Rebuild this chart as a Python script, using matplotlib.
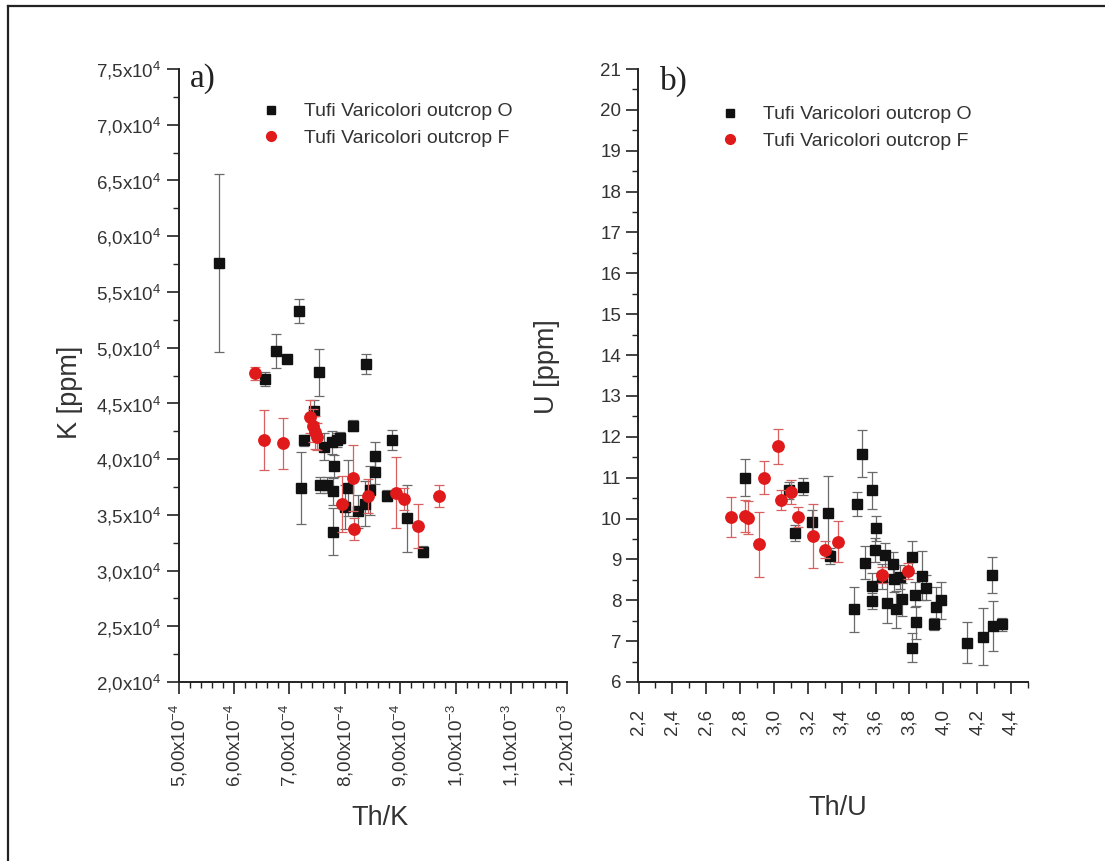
import matplotlib
matplotlib.use("Agg")
import matplotlib.pyplot as plt
from matplotlib.lines import Line2D
from matplotlib.ticker import FixedLocator, MultipleLocator

plt.rcParams['font.family'] = ['Liberation Sans', 'DejaVu Sans']
plt.rcParams['mathtext.fontset'] = 'custom'
plt.rcParams['mathtext.rm'] = 'Liberation Sans'
plt.rcParams['mathtext.it'] = 'Liberation Sans:italic'
plt.rcParams['mathtext.default'] = 'regular'

# ---------------- data: panel a (Th/K vs K) ----------------
thk_O = [5.73e-4, 7.17e-4, 6.76e-4, 6.96e-4, 6.56e-4, 7.54e-4, 8.39e-4, 7.45e-4, 7.26e-4, 8.14e-4,
         8.85e-4, 8.54e-4, 8.55e-4, 7.62e-4, 7.77e-4, 7.85e-4, 7.92e-4, 7.81e-4, 7.21e-4, 7.56e-4,
         7.67e-4, 7.79e-4, 8.06e-4, 8.00e-4, 7.79e-4, 8.24e-4, 8.37e-4, 8.45e-4, 8.76e-4, 9.12e-4,
         9.40e-4]
k_O = [5.76e4, 5.33e4, 4.97e4, 4.90e4, 4.72e4, 4.78e4, 4.85e4, 4.43e4, 4.17e4, 4.30e4,
       4.17e4, 4.03e4, 3.88e4, 4.11e4, 4.15e4, 4.17e4, 4.19e4, 3.94e4, 3.74e4, 3.77e4,
       3.77e4, 3.71e4, 3.74e4, 3.57e4, 3.35e4, 3.53e4, 3.60e4, 3.72e4, 3.67e4, 3.47e4,
       3.17e4]
k_O_err = [0.80e4, 0.11e4, 0.15e4, 0.03e4, 0.06e4, 0.21e4, 0.09e4, 0.10e4, 0.05e4, 0.05e4,
           0.09e4, 0.12e4, 0.10e4, 0.12e4, 0.10e4, 0.06e4, 0.05e4, 0.10e4, 0.32e4, 0.07e4,
           0.07e4, 0.12e4, 0.25e4, 0.20e4, 0.21e4, 0.15e4, 0.20e4, 0.22e4, 0.05e4, 0.30e4,
           0.05e4]

thk_F = [6.38e-4, 6.54e-4, 6.88e-4, 7.38e-4, 7.42e-4, 7.47e-4, 7.50e-4, 8.15e-4, 7.95e-4, 8.17e-4,
         8.42e-4, 8.92e-4, 9.07e-4, 9.32e-4, 9.69e-4]
k_F = [4.77e4, 4.17e4, 4.14e4, 4.38e4, 4.30e4, 4.24e4, 4.20e4, 3.83e4, 3.60e4, 3.37e4,
       3.67e4, 3.70e4, 3.64e4, 3.40e4, 3.67e4]
k_F_err = [0.06e4, 0.27e4, 0.23e4, 0.15e4, 0.15e4, 0.15e4, 0.12e4, 0.30e4, 0.25e4, 0.10e4,
           0.15e4, 0.32e4, 0.10e4, 0.20e4, 0.10e4]

# ---------------- data: panel b (Th/U vs U) ----------------
thu_O = [2.83, 3.09, 3.17, 3.225, 3.126, 3.32, 3.33, 3.52, 3.49, 3.578,
         3.603, 3.597, 3.656, 3.705, 3.54, 3.578, 3.581, 3.67, 3.721, 3.758,
         3.709, 3.745, 3.814, 3.873, 3.833, 3.898, 3.839, 3.945, 3.957, 3.987,
         3.814, 3.471, 4.139, 4.233, 4.292, 4.345, 4.286, 3.64]
u_O = [11.00, 10.69, 10.78, 9.92, 9.65, 10.14, 9.08, 11.59, 10.35, 10.69,
       9.76, 9.23, 9.11, 8.89, 8.92, 8.36, 7.98, 7.94, 7.78, 8.02,
       8.51, 8.57, 9.06, 8.60, 8.14, 8.31, 7.46, 7.42, 7.83, 8.00,
       6.84, 7.78, 6.96, 7.11, 7.37, 7.41, 8.62, 8.58]
u_O_err = [0.45, 0.20, 0.20, 0.30, 0.20, 0.90, 0.20, 0.58, 0.30, 0.45,
           0.30, 0.30, 0.30, 0.30, 0.40, 0.30, 0.20, 0.50, 0.45, 0.40,
           0.30, 0.30, 0.40, 0.60, 0.30, 0.30, 0.40, 0.15, 0.50, 0.45,
           0.35, 0.55, 0.50, 0.70, 0.60, 0.15, 0.43, 0.30]

thu_F = [3.026, 2.94, 2.746, 2.83, 2.845, 2.91, 3.04, 3.10, 3.14, 3.23,
         3.30, 3.38, 3.64, 3.79]
u_F = [11.77, 11.00, 10.04, 10.06, 10.02, 9.37, 10.45, 10.65, 10.04, 9.57,
       9.24, 9.43, 8.62, 8.72]
u_F_err = [0.43, 0.40, 0.49, 0.40, 0.40, 0.80, 0.25, 0.30, 0.25, 0.78,
           0.20, 0.50, 0.20, 0.20]

series_labels = ["Tufi Varicolori outcrop O", "Tufi Varicolori outcrop F"]

# ---------------- ticks ----------------
xa_ticks = [5e-4, 6e-4, 7e-4, 8e-4, 9e-4, 1.0e-3, 1.1e-3, 1.2e-3]
xa_labels = ["5,00x10$^{-4}$", "6,00x10$^{-4}$", "7,00x10$^{-4}$", "8,00x10$^{-4}$",
             "9,00x10$^{-4}$", "1,00x10$^{-3}$", "1,10x10$^{-3}$", "1,20x10$^{-3}$"]
ya_ticks = [2.0e4, 2.5e4, 3.0e4, 3.5e4, 4.0e4, 4.5e4, 5.0e4, 5.5e4, 6.0e4, 6.5e4, 7.0e4, 7.5e4]
ya_labels = ["2,0x10$^{4}$", "2,5x10$^{4}$", "3,0x10$^{4}$", "3,5x10$^{4}$", "4,0x10$^{4}$",
             "4,5x10$^{4}$", "5,0x10$^{4}$", "5,5x10$^{4}$", "6,0x10$^{4}$", "6,5x10$^{4}$",
             "7,0x10$^{4}$", "7,5x10$^{4}$"]
xb_ticks = [2.2, 2.4, 2.6, 2.8, 3.0, 3.2, 3.4, 3.6, 3.8, 4.0, 4.2, 4.4]
xb_labels = ["2,2", "2,4", "2,6", "2,8", "3,0", "3,2", "3,4", "3,6", "3,8", "4,0", "4,2", "4,4"]
yb_ticks = list(range(6, 22))
yb_labels = [str(v) for v in yb_ticks]

# ---------------- style ----------------
BLACK = '#111111'
RED = '#e01a1a'
ERR_K = '#6a6a6a'
ERR_R = '#d86060'
TXT = '#333333'
SPINE = '#222222'

W, H = 1105, 861
fig = plt.figure(figsize=(W / 100, H / 100), dpi=100)
fig.patch.set_facecolor('white')

def px_axes(x0, x1, y0, y1):
    return fig.add_axes([x0 / W, 1 - y1 / H, (x1 - x0) / W, (y1 - y0) / H])

axa = px_axes(178.5, 566.7, 69, 682)
axb = px_axes(638.5, 1028, 69, 682)

def draw(ax, xo, yo, eo, xf, yf, ef):
    ax.errorbar(xo, yo, yerr=eo, fmt='s', color=BLACK, ms=7.2, mec=BLACK,
                ecolor=ERR_K, elinewidth=0.9, capsize=3.5, capthick=0.9, zorder=3)
    ax.errorbar(xf, yf, yerr=ef, fmt='o', color=RED, ms=8.2, mec=RED,
                ecolor=ERR_R, elinewidth=0.9, capsize=3.5, capthick=0.9, zorder=4)

draw(axa, thk_O, k_O, k_O_err, thk_F, k_F, k_F_err)
draw(axb, thu_O, u_O, u_O_err, thu_F, u_F, u_F_err)

def style(ax, xt, xl, yt, yl, xminor, yminor, xpad):
    for s in ['top', 'right']:
        ax.spines[s].set_visible(False)
    for s in ['left', 'bottom']:
        ax.spines[s].set_color(SPINE)
        ax.spines[s].set_linewidth(1.4)
    ax.xaxis.set_major_locator(FixedLocator(xt))
    ax.set_xticklabels(xl, rotation=90)
    ax.yaxis.set_major_locator(FixedLocator(yt))
    ax.set_yticklabels(yl)
    ax.xaxis.set_minor_locator(MultipleLocator(xminor))
    ax.yaxis.set_minor_locator(MultipleLocator(yminor))
    ax.tick_params(which='major', direction='out', length=8.5, width=1.2, color=SPINE,
                   labelsize=13.5, labelcolor=TXT)
    ax.tick_params(which='minor', direction='out', length=4, width=1.0, color=SPINE)
    ax.tick_params(axis='x', which='major', pad=xpad)
    ax.tick_params(axis='y', which='major', pad=4)

axa.set_xlim(5e-4, 1.2e-3)
axa.set_ylim(2e4, 7.5e4)
axb.set_xlim(2.2, 4.5)
axb.set_ylim(6, 21)
style(axa, xa_ticks, xa_labels, ya_ticks, ya_labels, 2e-5, 0.25e4, 7)
style(axb, xb_ticks, xb_labels, yb_ticks, yb_labels, 0.1, 0.5, 11)

axa.set_xlabel("Th/K", fontsize=19.5, color=TXT)
axa.set_ylabel("K [ppm]", fontsize=19.5, color=TXT)
axb.set_xlabel("Th/U", fontsize=19.5, color=TXT)
axb.set_ylabel("U [ppm]", fontsize=19.5, color=TXT)
axa.xaxis.set_label_coords(0.519, -0.2007)
axa.yaxis.set_label_coords(-0.245, 0.473)
axb.xaxis.set_label_coords(0.511, -0.184)
axb.yaxis.set_label_coords(-0.2015, 0.515)

axa.text(0.030, 0.971, "a)", transform=axa.transAxes, fontsize=24,
         family=['Liberation Serif', 'DejaVu Serif'], color='#222222', va='baseline')
axb.text(0.055, 0.966, "b)", transform=axb.transAxes, fontsize=24,
         family=['Liberation Serif', 'DejaVu Serif'], color='#222222', va='baseline')

def legend(ax, x, y):
    handles = [Line2D([], [], marker='s', ls='none', color=BLACK, ms=6.0),
               Line2D([], [], marker='o', ls='none', color=RED, ms=7.0)]
    ax.legend(handles, series_labels, loc='upper left', bbox_to_anchor=(x, y),
              frameon=False, fontsize=14, handlelength=1.0, handletextpad=1.2,
              labelspacing=0.45, borderpad=0, borderaxespad=0, labelcolor=TXT)

legend(axa, 0.213, 0.945)
legend(axb, 0.209, 0.940)

# outer frame (left and top edges visible)
fig.add_artist(Line2D([8 / W, 8 / W], [1 - 6 / H, 0], transform=fig.transFigure,
                      color='#222222', lw=1.6))
fig.add_artist(Line2D([8 / W, 1], [1 - 6 / H, 1 - 6 / H], transform=fig.transFigure,
                      color='#222222', lw=1.6))

fig.savefig("out.png", dpi=100)
